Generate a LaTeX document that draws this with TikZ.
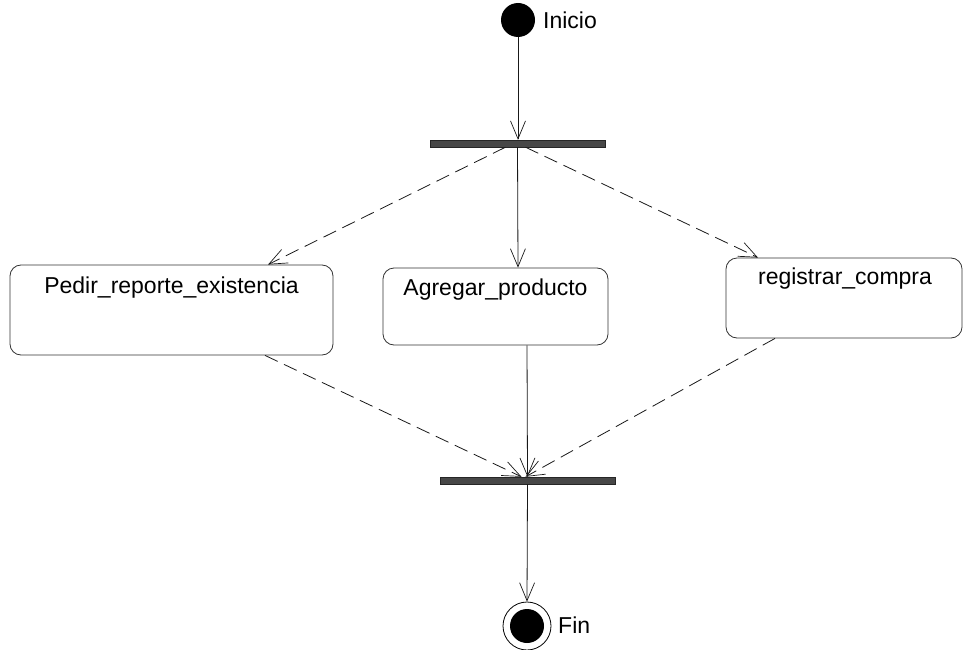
\documentclass[tikz,border=0pt]{standalone}
\usepackage{fontspec}
\setmainfont{Liberation Sans}
\usetikzlibrary{arrows.meta}
\begin{document}
\begin{tikzpicture}[x=1pt,y=-1pt,
  txt/.style={font=\fontsize{23}{27}\selectfont, inner sep=0pt},
  action/.style={draw=black!80, line width=0.8pt, rounded corners=11pt, inner sep=0pt},
  syncbar/.style={fill=black!72, draw=black!85, line width=0.4pt, minimum height=7pt, inner sep=0pt},
  flow/.style={draw=black!90, line width=0.8pt,
    -{Straight Barb[length=18pt,width=15pt,line width=0.7pt]}},
  optflow/.style={flow, dash pattern=on 14pt off 7pt}]
\useasboundingbox (0,0) rectangle (966,650);

% initial and final states
\node[circle, fill=black, minimum size=34pt, inner sep=0pt] (ini) at (518,20) {};
\node[txt, anchor=west] (tini) at (543,20) {Inicio};
\node[circle, draw=black, line width=0.8pt, minimum size=48pt, inner sep=0pt,
  path picture={\fill[black] (path picture bounding box.center) circle (17pt);}] (fin) at (527,626) {};
\node[txt, anchor=west] (tfin) at (558,625) {Fin};

% fork and join bars
\node[syncbar, minimum width=175pt] (fork) at (517.5,143.5) {};
\node[syncbar, minimum width=175pt] (join) at (527.5,480.5) {};

% activities
\node[action, minimum width=323pt, minimum height=90pt] (pedir) at (171.5,310) {};
\node[txt] (tpedir) at (171.5,288) {Pedir\_reporte\_existencia};
\node[action, minimum width=225pt, minimum height=77pt] (agregar) at (495.5,306.5) {};
\node[txt] (tagregar) at (495.5,290) {Agregar\_producto};
\node[action, minimum width=236pt, minimum height=80pt] (regis) at (844,298) {};
\node[txt] (tregis) at (845,279) {registrar\_compra};

% transitions
\draw[flow] (ini.south) -- (ini.south |- fork.north);
\draw[optflow] ([xshift=-12pt]fork.south) -- ([xshift=96.5pt]pedir.north);
\draw[flow] (fork.south) -- ([xshift=22.5pt]agregar.north);
\draw[optflow] ([xshift=8pt]fork.south) -- ([xshift=-86pt]regis.north);
\draw[optflow] ([xshift=93.5pt]pedir.south) -- ([xshift=-6pt]join.north);
\draw[flow] ([xshift=31.5pt]agregar.south) -- (join.north);
\draw[optflow] ([xshift=-69pt]regis.south) -- ([xshift=-2pt]join.north);
\draw[flow] (join.south) -- (fin.north);
\end{tikzpicture}
\end{document}
